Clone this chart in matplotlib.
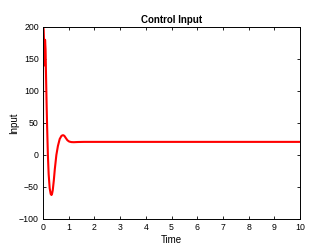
import matplotlib
matplotlib.use("Agg")
import matplotlib.pyplot as plt
import numpy as np

t = [0, 0.005, 0.02, 0.04, 0.06, 0.08, 0.1, 0.12, 0.14, 0.16, 0.19, 0.22, 0.26, 0.3, 0.33, 0.35,
     0.38, 0.42, 0.46, 0.52, 0.58, 0.65, 0.72, 0.78, 0.83, 0.88, 0.95, 1.02, 1.1, 1.2, 1.35, 1.6, 2.0, 10.0]
u = [0, 200, 195, 170, 140, 180, 165, 120, 80, 45, 0, -30, -52, -61, -62.5, -61,
     -55, -40, -22, 0, 14, 25, 30, 31, 30, 27, 23, 21, 20.2, 20, 20.3, 20.5, 20.5, 20.5]

xticks = list(range(0, 11))
yticks = [-100, -50, 0, 50, 100, 150, 200]

plt.rcParams['font.family'] = ['Liberation Sans', 'DejaVu Sans']
fig = plt.figure(figsize=(3.31, 2.46), dpi=100)
ax = fig.add_axes([43/331, 1-219/246, (300-43)/331, (219-27)/246])
ax.plot(t, u, color='red', lw=1.5)
ax.set_xlim(0, 10)
ax.set_ylim(-100, 200)
ax.set_xticks(xticks)
ax.set_yticks(yticks)
ax.tick_params(direction='in', length=2.5, width=0.6, labelsize=6.3, top=True, right=True, pad=3)
for s in ax.spines.values():
    s.set_linewidth(0.7)
ax.set_title('Control Input', fontsize=7, fontweight='bold', pad=3)
ax.set_xlabel('Time', fontsize=7, labelpad=2)
ax.set_ylabel('Input', fontsize=7, labelpad=0)
fig.savefig('out.png', dpi=100)
